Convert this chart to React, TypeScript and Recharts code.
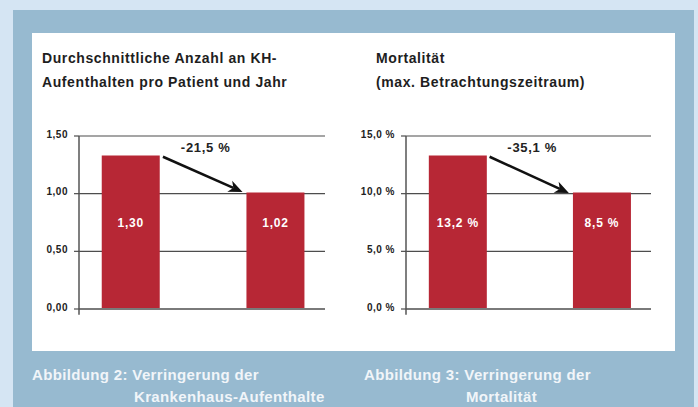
import React from 'react';
import {
  BarChart,
  Bar,
  XAxis,
  YAxis,
  CartesianGrid,
  ReferenceLine,
  LabelList,
} from 'recharts';

// Aufenthalte pro Patient und Jahr (vorher / nachher)
const stayPositions = [1, 2];
const stayBarHeights = [1.33, 1.01];
const stayLabels = ['1,30', '1,02'];
const stayTicks = [0, 0.5, 1, 1.5];
const stayTickLabels = ['0,00', '0,50', '1,00', '1,50'];
const stayChange = '-21,5 %';

// Mortalität
const mortPositions = [1, 2];
const mortBarHeights = [13.3, 10.1];
const mortLabels = ['13,2 %', '8,5 %'];
const mortTicks = [0, 5, 10, 15];
const mortTickLabels = ['0,0 %', '5,0 %', '10,0 %', '15,0 %'];
const mortChange = '-35,1 %';

const BAR_RED = '#b72735';
const FONT = '"Liberation Sans", Arial, sans-serif';

const arrowShape = (text: string) => (props: any) => {
  const { x1, y1, x2, y2 } = props;
  const ang = Math.atan2(y2 - y1, x2 - x1);
  const len = 14;
  const wing = 6;
  const bx = x2 - len * Math.cos(ang);
  const by = y2 - len * Math.sin(ang);
  const nx = -Math.sin(ang);
  const ny = Math.cos(ang);
  const notchX = x2 - (len - 4) * Math.cos(ang);
  const notchY = y2 - (len - 4) * Math.sin(ang);
  return (
    <g>
      <line x1={x1} y1={y1} x2={notchX} y2={notchY} stroke="#111" strokeWidth={2.5} />
      <polygon
        points={`${x2},${y2} ${bx + nx * wing},${by + ny * wing} ${notchX},${notchY} ${bx - nx * wing},${by - ny * wing}`}
        fill="#111"
      />
      <text
        x={(x1 + x2) / 2 + 3}
        y={y1 - 5}
        textAnchor="middle"
        fontFamily={FONT}
        fontWeight="bold"
        fontSize={13}
        letterSpacing={0.7}
        fill="#222"
      >
        {text}
      </text>
    </g>
  );
};

const barLabel = (props: any) => {
  const { x, y, width, height, value } = props;
  return (
    <text
      x={x + width / 2}
      y={y + height - 82}
      textAnchor="middle"
      fontFamily={FONT}
      fontWeight="bold"
      fontSize={12}
      letterSpacing={0.8}
      fill="#fff"
    >
      {value}
    </text>
  );
};

interface PanelProps {
  positions: number[];
  heights: number[];
  labels: string[];
  ticks: number[];
  tickLabels: string[];
  change: string;
  arrowFrom: [number, number];
  arrowTo: [number, number];
  axisWidth: number;
  rightMargin: number;
  width: number;
}

const Panel = (p: PanelProps) => {
  const data = p.positions.map((x, i) => ({ x, h: p.heights[i], label: p.labels[i] }));
  const top = p.ticks[p.ticks.length - 1];
  const step = p.ticks[1] - p.ticks[0];
  return (
    <BarChart
      width={p.width}
      height={318}
      data={data}
      margin={{ top: 103, right: p.rightMargin, bottom: 42, left: 0 }}
    >
      <CartesianGrid vertical={false} stroke="#4d4d4d" strokeWidth={1.2} />
      <XAxis dataKey="x" type="number" domain={[0.64, 2.34]} hide />
      <YAxis
        domain={[0, top]}
        ticks={p.ticks}
        width={p.axisWidth}
        axisLine={false}
        tickLine={{ stroke: '#4d4d4d', strokeWidth: 1.2 }}
        tickSize={5}
        tickMargin={6}
        tickFormatter={(v: number) => p.tickLabels[p.ticks.indexOf(v)]}
        tick={{ fontFamily: FONT, fontWeight: 'bold', fontSize: 10, fill: '#222', letterSpacing: 0.5, dy: -2 }}
        interval={0}
      />
      <ReferenceLine y={0} stroke="#7a7a7a" strokeWidth={2} />
      <ReferenceLine
        segment={[
          { x: 0.64, y: -step * 0.1 },
          { x: 0.64, y: top },
        ]}
        stroke="#555"
        strokeWidth={1.5}
        ifOverflow="visible"
      />
      <Bar dataKey="h" fill={BAR_RED} barSize={58} isAnimationActive={false}>
        <LabelList dataKey="label" content={barLabel} />
      </Bar>
      <ReferenceLine
        segment={[
          { x: p.arrowFrom[0], y: p.arrowFrom[1] },
          { x: p.arrowTo[0], y: p.arrowTo[1] },
        ]}
        ifOverflow="visible"
        shape={arrowShape(p.change)}
      />
    </BarChart>
  );
};

const titleStyle: React.CSSProperties = {
  position: 'absolute',
  top: 46,
  fontFamily: FONT,
  fontWeight: 'bold',
  fontSize: 14,
  letterSpacing: 0.6,
  lineHeight: '24px',
  color: '#1e1e1e',
  whiteSpace: 'nowrap',
};

const captionStyle: React.CSSProperties = {
  position: 'absolute',
  top: 364,
  fontFamily: FONT,
  fontWeight: 'bold',
  fontSize: 15,
  letterSpacing: 0.35,
  lineHeight: '22px',
  color: '#f1f5f9',
  whiteSpace: 'nowrap',
};

export default function App() {
  return (
    <div style={{ position: 'absolute', left: 0, top: 0, width: 698, height: 407, background: '#d5e5f3', overflow: 'hidden' }}>
      <div style={{ position: 'absolute', left: 13, top: 10, width: 681, height: 397, background: '#97bad0' }} />
      <div style={{ position: 'absolute', left: 32, top: 33, width: 643, height: 318, background: '#fff' }}>
        <div style={{ position: 'absolute', left: 0, top: 0 }}>
          <Panel
            positions={stayPositions}
            heights={stayBarHeights}
            labels={stayLabels}
            ticks={stayTicks}
            tickLabels={stayTickLabels}
            change={stayChange}
            arrowFrom={[1.22, 1.32]}
            arrowTo={[1.77, 1.015]}
            axisWidth={47}
            rightMargin={28}
            width={321}
          />
        </div>
        <div style={{ position: 'absolute', left: 321, top: 0 }}>
          <Panel
            positions={mortPositions}
            heights={mortBarHeights}
            labels={mortLabels}
            ticks={mortTicks}
            tickLabels={mortTickLabels}
            change={mortChange}
            arrowFrom={[1.22, 13.2]}
            arrowTo={[1.77, 10.05]}
            axisWidth={53}
            rightMargin={24}
            width={322}
          />
        </div>
      </div>
      <div style={{ ...titleStyle, left: 42 }}>
        Durchschnittliche Anzahl an KH-
        <br />
        Aufenthalten pro Patient und Jahr
      </div>
      <div style={{ ...titleStyle, left: 376 }}>
        Mortalität
        <br />
        (max. Betrachtungszeitraum)
      </div>
      <div style={{ ...captionStyle, left: 32 }}>
        Abbildung 2: Verringerung der
        <div style={{ paddingLeft: 102 }}>Krankenhaus-Aufenthalte</div>
      </div>
      <div style={{ ...captionStyle, left: 364 }}>
        Abbildung 3: Verringerung der
        <div style={{ paddingLeft: 102 }}>Mortalität</div>
      </div>
    </div>
  );
}
